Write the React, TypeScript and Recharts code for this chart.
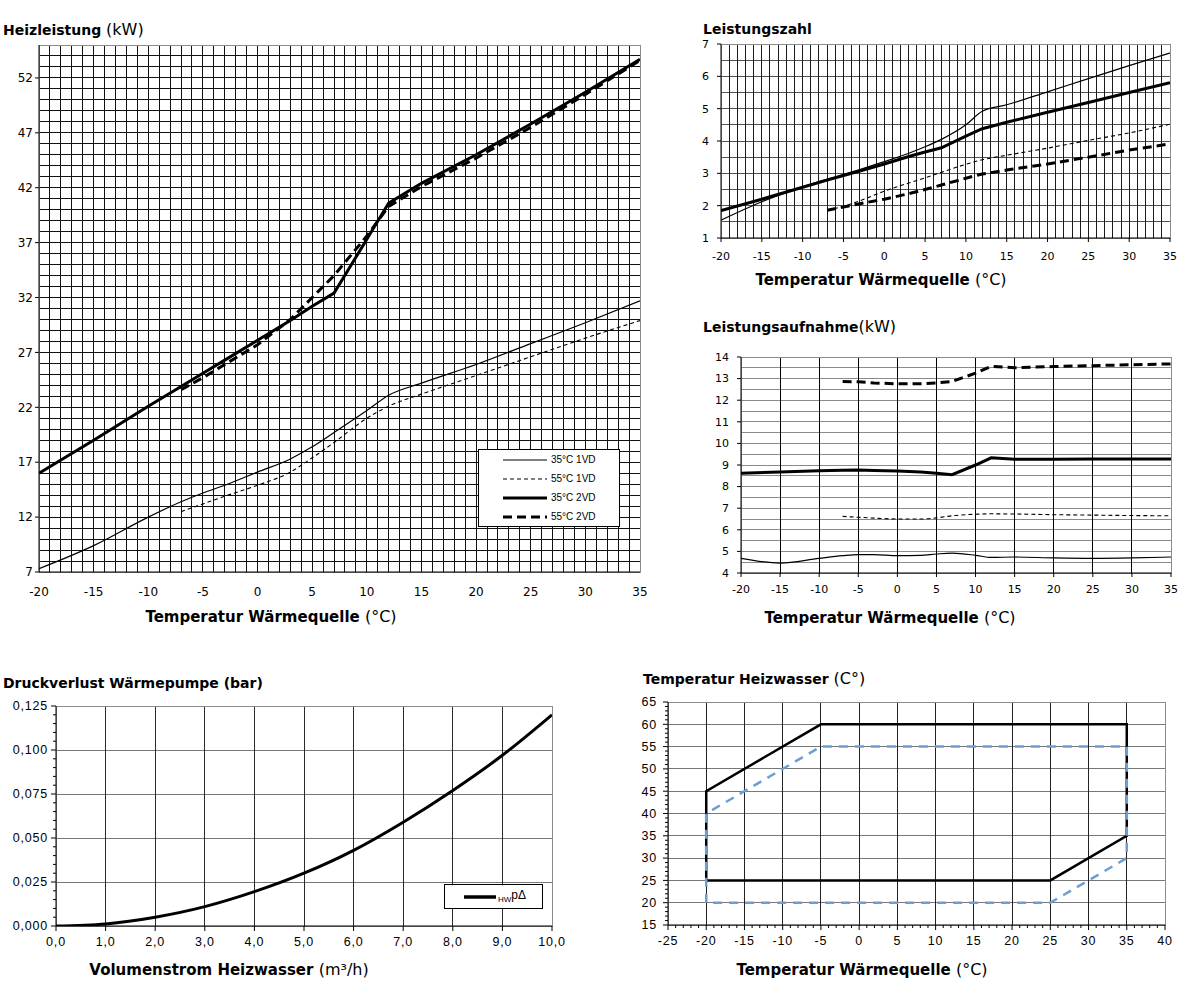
import React from 'react';
import { LineChart, Line, XAxis, YAxis, CartesianGrid, ReferenceArea, Legend } from 'recharts';

// ---------------- Data ----------------
const sourceTemps = [-20, -15, -10, -7, -5, -3, 0, 3, 5, 7, 10, 12, 15, 20, 25, 30, 35];
const seriesNames = ['35°C 1VD', '55°C 1VD', '35°C 2VD', '55°C 2VD'];

// Heizleistung (kW)
const heat35_1VD = [7.3, 9.4, 12.0, 13.4, 14.2, 14.9, 16.1, 17.3, 18.4, 19.7, 21.7, 23.1, 24.2, 25.9, 27.8, 29.7, 31.7];
const heat55_1VD = [null, null, null, 12.5, 13.2, 13.9, 14.9, 16.1, 17.4, 18.8, 21.0, 22.1, 23.2, 24.9, 26.6, 28.3, 29.9];
const heat35_2VD = [16.0, 19.0, 22.1, 23.9, 25.1, 26.3, 28.1, 29.9, 31.2, 32.4, 37.3, 40.6, 42.4, 45.0, 47.8, 50.7, 53.7];
const heat55_2VD = [null, null, null, 23.6, 24.7, 25.9, 27.7, 30.0, 32.0, 34.0, 37.6, 40.3, 42.1, 44.7, 47.5, 50.5, 53.6];

// Leistungszahl
const cop35_1VD = [1.55, 2.12, 2.58, 2.82, 2.97, 3.12, 3.36, 3.62, 3.82, 4.05, 4.5, 4.92, 5.12, 5.52, 5.93, 6.33, 6.72];
const cop55_1VD = [null, null, null, 1.87, 1.98, 2.15, 2.45, 2.7, 2.86, 3.03, 3.28, 3.42, 3.56, 3.78, 4.02, 4.25, 4.52];
const cop35_2VD = [1.85, 2.2, 2.57, 2.79, 2.93, 3.07, 3.29, 3.52, 3.66, 3.79, 4.15, 4.38, 4.58, 4.89, 5.19, 5.5, 5.8];
const cop55_2VD = [null, null, null, 1.86, 1.96, 2.06, 2.2, 2.37, 2.5, 2.64, 2.85, 2.98, 3.1, 3.29, 3.5, 3.72, 3.91];

// Leistungsaufnahme (kW)
const pow35_1VD = [4.68, 4.46, 4.68, 4.8, 4.85, 4.85, 4.8, 4.82, 4.88, 4.92, 4.82, 4.72, 4.74, 4.7, 4.68, 4.7, 4.74];
const pow55_1VD = [null, null, null, 6.62, 6.58, 6.54, 6.5, 6.5, 6.55, 6.65, 6.72, 6.74, 6.73, 6.7, 6.68, 6.66, 6.65];
const pow35_2VD = [8.62, 8.68, 8.73, 8.76, 8.77, 8.75, 8.72, 8.68, 8.62, 8.55, 9.0, 9.33, 9.27, 9.27, 9.28, 9.28, 9.28];
const pow55_2VD = [null, null, null, 12.87, 12.85, 12.8, 12.76, 12.76, 12.8, 12.87, 13.25, 13.57, 13.5, 13.56, 13.6, 13.64, 13.68];

// Druckverlust Wärmepumpe (bar)
const flowRates = [0, 1, 2, 3, 4, 5, 6, 7, 8, 9, 10];
const pressureDrop = [0, 0.0012, 0.005, 0.011, 0.0195, 0.03, 0.043, 0.059, 0.077, 0.097, 0.12];

// Einsatzgrenzen: Temperatur Heizwasser vs Temperatur Wärmequelle
const limitSolidX = [-20, -20, -5, 35, 35, 25, -20];
const limitSolidY = [25, 45, 60, 60, 35, 25, 25];
const limitDashedX = [-20, -20, -5, 35, 35, 25, -20];
const limitDashedY = [20, 40, 55, 55, 30, 20, 20];

// Tick labels
const heatXMajor = [-20, -15, -10, -5, 0, 5, 10, 15, 20, 25, 30, 35];
const heatYMajor = [7, 12, 17, 22, 27, 32, 37, 42, 47, 52];
const copYMajor = [1, 2, 3, 4, 5, 6, 7];
const powYMajor = [4, 5, 6, 7, 8, 9, 10, 11, 12, 13, 14];
const flowMajor = [0, 1, 2, 3, 4, 5, 6, 7, 8, 9, 10];
const dpMajor = [0, 0.025, 0.05, 0.075, 0.1, 0.125];
const limXMajor = [-25, -20, -15, -10, -5, 0, 5, 10, 15, 20, 25, 30, 35, 40];
const limYMajor = [15, 20, 25, 30, 35, 40, 45, 50, 55, 60, 65];

// ---------------- Helpers ----------------
const range = (start: number, end: number, step: number): number[] => {
  const out: number[] = [];
  const n = Math.round((end - start) / step);
  for (let i = 0; i <= n; i++) out.push(Number((start + i * step).toFixed(6)));
  return out;
};
const isIn = (list: number[], v: number) => list.some((m) => Math.abs(m - v) < 1e-9);

const DEJAVU = '"DejaVu Sans", Verdana, sans-serif';
const LIB = '"Liberation Sans", Arial, sans-serif';

type TickCfg = {
  side: 'left' | 'bottom';
  majors: number[];
  fmt: (v: number) => string;
  size: number;
  margin: number;
  majorLen: number;
  minorLen: number;
  font: string;
  fontSize: number;
  letterSpacing?: number;
};

const makeTick = (c: TickCfg) => (props: any) => {
  const { x, y, payload } = props;
  const v = Number(payload.value);
  const major = isIn(c.majors, v);
  const len = major ? c.majorLen : c.minorLen;
  const ts: React.CSSProperties = { fontFamily: c.font, fontSize: c.fontSize, letterSpacing: c.letterSpacing || 0 };
  if (c.side === 'left') {
    const ax = x + c.margin + c.size;
    return (
      <g>
        {len > 0 && <line x1={ax - len} x2={ax} y1={y} y2={y} stroke="#000" strokeWidth={1} />}
        {major && (
          <text x={x} y={y} dy="0.35em" textAnchor="end" fill="#000" style={ts}>
            {c.fmt(v)}
          </text>
        )}
      </g>
    );
  }
  const ay = y - c.margin - c.size;
  return (
    <g>
      {len > 0 && <line x1={x} x2={x} y1={ay} y2={ay + len} stroke="#000" strokeWidth={1} />}
      {major && (
        <text x={x} y={y} dy="0.71em" textAnchor="middle" fill="#000" style={ts}>
          {c.fmt(v)}
        </text>
      )}
    </g>
  );
};

const fmtInt = (v: number) => String(v);
const fmt3 = (v: number) => v.toFixed(3).replace('.', ',');
const fmt1 = (v: number) => v.toFixed(1).replace('.', ',');

// Rows for the temperature charts
const heatRows = sourceTemps.map((t, i) => ({ t, a: heat35_1VD[i], b: heat55_1VD[i], c: heat35_2VD[i], d: heat55_2VD[i] }));
const copRows = sourceTemps.map((t, i) => ({ t, a: cop35_1VD[i], b: cop55_1VD[i], c: cop35_2VD[i], d: cop55_2VD[i] }));
const powRows = sourceTemps.map((t, i) => ({ t, a: pow35_1VD[i], b: pow55_1VD[i], c: pow35_2VD[i], d: pow55_2VD[i] }));
const dpRows = flowRates.map((q, i) => ({ q, dp: pressureDrop[i] }));
const limSolidRows = limitSolidX.map((x, i) => ({ x, y: limitSolidY[i] }));
const limDashedRows = limitDashedX.map((x, i) => ({ x, y: limitDashedY[i] }));

const seriesStyle = [
  { key: 'a', width: 1.2, dash: undefined as string | undefined, type: 'monotone' as const },
  { key: 'b', width: 1.1, dash: '4 3', type: 'monotone' as const },
  { key: 'c', width: 3, dash: undefined as string | undefined, type: 'linear' as const },
  { key: 'd', width: 3, dash: '9 5', type: 'linear' as const },
];

const renderSeries = () =>
  seriesStyle.map((s, i) => (
    <Line
      key={s.key}
      dataKey={s.key}
      name={seriesNames[i]}
      type={s.type}
      stroke="#000"
      strokeWidth={s.width}
      strokeDasharray={s.dash}
      dot={false}
      activeDot={false}
      isAnimationActive={false}
    />
  ));

const heatLegend = () => (
  <div
    style={{
      width: 142,
      height: 78,
      border: '1.5px solid #000',
      background: '#fff',
      boxSizing: 'border-box',
      paddingTop: 0,
      paddingLeft: 24,
    }}
  >
    {seriesStyle.map((s, i) => (
      <div key={s.key} style={{ display: 'flex', alignItems: 'center', height: 19 }}>
        <svg width={46} height={8} style={{ display: 'block' }}>
          <line x1={0} y1={4} x2={44} y2={4} stroke="#000" strokeWidth={s.width} strokeDasharray={s.dash} />
        </svg>
        <span style={{ fontFamily: LIB, fontSize: 10, marginLeft: 2, color: '#000' }}>{seriesNames[i]}</span>
      </div>
    ))}
  </div>
);

const dpLegend = () => (
  <div
    style={{
      width: 99,
      height: 25,
      border: '1.5px solid #000',
      background: '#fff',
      boxSizing: 'border-box',
      display: 'flex',
      alignItems: 'center',
      paddingLeft: 18,
    }}
  >
    <svg width={34} height={8} style={{ display: 'block' }}>
      <line x1={1} y1={4} x2={33} y2={4} stroke="#000" strokeWidth={3.5} />
    </svg>
    <span style={{ fontFamily: LIB, fontSize: 12, color: '#000', marginLeft: 1 }}>
      <span style={{ fontSize: 8, verticalAlign: 'sub' }}>HW</span>pΔ
    </span>
  </div>
);

const titleStyle: React.CSSProperties = {
  position: 'absolute',
  fontFamily: DEJAVU,
  fontWeight: 'bold',
  fontSize: 14,
  lineHeight: '18px',
  whiteSpace: 'nowrap',
  color: '#000',
};
const xLabelStyle: React.CSSProperties = {
  position: 'absolute',
  fontFamily: DEJAVU,
  fontWeight: 'bold',
  fontSize: 15,
  lineHeight: '18px',
  whiteSpace: 'nowrap',
  color: '#000',
  transform: 'translateX(-50%)',
};
const normal: React.CSSProperties = { fontWeight: 'normal', fontSize: 16 };

const XLabel = ({ cx, top, text, unit }: { cx: number; top: number; text: string; unit: string }) => (
  <div style={{ ...xLabelStyle, left: cx, top }}>
    {text} <span style={normal}>{unit}</span>
  </div>
);

const BORDER = '#8c8c8c';

const grids = (vColor: string, hColor: string, vValues?: number[], hValues?: number[]) => [
  <CartesianGrid
    key="gh"
    vertical={false}
    stroke={hColor}
    strokeWidth={1}
    shapeRendering="crispEdges"
    horizontalValues={hValues}
  />,
  <CartesianGrid
    key="gv"
    horizontal={false}
    stroke={vColor}
    strokeWidth={1}
    shapeRendering="crispEdges"
    verticalValues={vValues}
  />,
];

export default function App() {
  return (
    <div style={{ position: 'absolute', left: 0, top: 0, width: 1186, height: 988, background: '#fff', overflow: 'hidden' }}>
      {/* Chart 1: Heizleistung */}
      <div style={{ position: 'absolute', left: 0, top: 0 }}>
        <LineChart width={660} height={600} data={heatRows} margin={{ top: 45, right: 20, bottom: 0, left: 0 }}>
          {grids('#111', '#111')}
          <ReferenceArea x1={-20} x2={35} y1={7} y2={55} fill="none" fillOpacity={0} stroke={BORDER} strokeWidth={1} shapeRendering="crispEdges" />
          <XAxis
            dataKey="t"
            type="number"
            domain={[-20, 35]}
            ticks={range(-20, 35, 1)}
            interval={0}
            allowDataOverflow
            height={28}
            tickSize={5}
            tickMargin={10}
            tickLine={false}
            axisLine={{ stroke: '#000' }}
            tick={makeTick({ side: 'bottom', majors: heatXMajor, fmt: fmtInt, size: 5, margin: 10, majorLen: 0, minorLen: 0, font: DEJAVU, fontSize: 12 })}
          />
          <YAxis
            type="number"
            domain={[7, 55]}
            ticks={range(7, 55, 1)}
            interval={0}
            allowDataOverflow
            width={39}
            tickSize={4}
            tickMargin={2}
            tickLine={false}
            axisLine={{ stroke: '#000' }}
            tick={makeTick({ side: 'left', majors: heatYMajor, fmt: fmtInt, size: 4, margin: 2, majorLen: 4, minorLen: 0, font: DEJAVU, fontSize: 12 })}
          />
          {renderSeries()}
          <Legend
            layout="vertical"
            align="center"
            verticalAlign="middle"
            content={heatLegend}
            wrapperStyle={{ position: 'absolute', left: 478, top: 449, width: 142, height: 78 }}
          />
        </LineChart>
      </div>
      <div style={{ ...titleStyle, left: 3, top: 21 }}>
        Heizleistung <span style={normal}>(kW)</span>
      </div>
      <XLabel cx={271} top={608} text="Temperatur Wärmequelle" unit="(°C)" />

      {/* Chart 2: Leistungszahl */}
      <div style={{ position: 'absolute', left: 690, top: 0 }}>
        <LineChart width={496} height={262} data={copRows} margin={{ top: 44, right: 16, bottom: 0, left: 0 }}>
          {grids('#1a1a1a', '#555')}
          <ReferenceArea x1={-20} x2={35} y1={1} y2={7} fill="none" fillOpacity={0} stroke={BORDER} strokeWidth={1} shapeRendering="crispEdges" />
          <XAxis
            dataKey="t"
            type="number"
            domain={[-20, 35]}
            ticks={range(-20, 35, 1)}
            interval={0}
            allowDataOverflow
            height={24}
            tickSize={4}
            tickMargin={10}
            tickLine={false}
            axisLine={{ stroke: '#000' }}
            tick={makeTick({ side: 'bottom', majors: heatXMajor, fmt: fmtInt, size: 4, margin: 10, majorLen: 4, minorLen: 0, font: DEJAVU, fontSize: 11 })}
          />
          <YAxis
            type="number"
            domain={[1, 7]}
            ticks={range(1, 7, 0.5)}
            interval={0}
            allowDataOverflow
            width={31}
            tickSize={4}
            tickMargin={8}
            tickLine={false}
            axisLine={{ stroke: '#000' }}
            tick={makeTick({ side: 'left', majors: copYMajor, fmt: fmtInt, size: 4, margin: 8, majorLen: 4, minorLen: 0, font: DEJAVU, fontSize: 11 })}
          />
          {renderSeries()}
        </LineChart>
      </div>
      <div style={{ ...titleStyle, left: 703, top: 20 }}>Leistungszahl</div>
      <XLabel cx={881} top={271} text="Temperatur Wärmequelle" unit="(°C)" />

      {/* Chart 3: Leistungsaufnahme */}
      <div style={{ position: 'absolute', left: 690, top: 300 }}>
        <LineChart width={496} height={300} data={powRows} margin={{ top: 57, right: 15, bottom: 0, left: 0 }}>
          {grids('#000', '#8a8a8a')}
          <ReferenceArea x1={-20} x2={35} y1={4} y2={14} fill="none" fillOpacity={0} stroke={BORDER} strokeWidth={1} shapeRendering="crispEdges" />
          <XAxis
            dataKey="t"
            type="number"
            domain={[-20, 35]}
            ticks={heatXMajor}
            interval={0}
            allowDataOverflow
            height={27}
            tickSize={4}
            tickMargin={8}
            tickLine={false}
            axisLine={{ stroke: '#000' }}
            tick={makeTick({ side: 'bottom', majors: heatXMajor, fmt: fmtInt, size: 4, margin: 8, majorLen: 4, minorLen: 0, font: DEJAVU, fontSize: 11 })}
          />
          <YAxis
            type="number"
            domain={[4, 14]}
            ticks={range(4, 14, 0.5)}
            interval={0}
            allowDataOverflow
            width={51}
            tickSize={4}
            tickMargin={8}
            tickLine={false}
            axisLine={{ stroke: '#000' }}
            tick={makeTick({ side: 'left', majors: powYMajor, fmt: fmtInt, size: 4, margin: 8, majorLen: 4, minorLen: 0, font: DEJAVU, fontSize: 11 })}
          />
          {renderSeries()}
        </LineChart>
      </div>
      <div style={{ ...titleStyle, left: 703, top: 318 }}>Leistungsaufnahme<span style={normal}>(kW)</span></div>
      <XLabel cx={890} top={609} text="Temperatur Wärmequelle" unit="(°C)" />

      {/* Chart 4: Druckverlust */}
      <div style={{ position: 'absolute', left: 0, top: 690 }}>
        <LineChart width={580} height={260} data={dpRows} margin={{ top: 16, right: 28, bottom: 0, left: 0 }}>
          {grids('#2a2a2a', '#777', flowMajor, dpMajor)}
          <ReferenceArea x1={0} x2={10} y1={0} y2={0.125} fill="none" fillOpacity={0} stroke={BORDER} strokeWidth={1} shapeRendering="crispEdges" />
          <XAxis
            dataKey="q"
            type="number"
            domain={[0, 10]}
            ticks={flowMajor}
            interval={0}
            allowDataOverflow
            height={24}
            tickSize={5}
            tickMargin={6}
            tickLine={false}
            axisLine={{ stroke: '#000' }}
            tick={makeTick({ side: 'bottom', majors: flowMajor, fmt: fmt1, size: 5, margin: 6, majorLen: 5, minorLen: 0, font: LIB, fontSize: 12.5, letterSpacing: 0.8 })}
          />
          <YAxis
            type="number"
            domain={[0, 0.125]}
            ticks={range(0, 0.125, 0.005)}
            interval={0}
            allowDataOverflow
            width={56}
            tickSize={5}
            tickMargin={3}
            tickLine={false}
            axisLine={{ stroke: '#000' }}
            tick={makeTick({ side: 'left', majors: dpMajor, fmt: fmt3, size: 5, margin: 3, majorLen: 5, minorLen: 3, font: LIB, fontSize: 12.5, letterSpacing: 0.8 })}
          />
          <Line dataKey="dp" name="HWpΔ" type="monotone" stroke="#000" strokeWidth={3} dot={false} activeDot={false} isAnimationActive={false} />
          <Legend
            layout="vertical"
            align="center"
            verticalAlign="middle"
            content={dpLegend}
            wrapperStyle={{ position: 'absolute', left: 444, top: 194, width: 99, height: 25 }}
          />
        </LineChart>
      </div>
      <div style={{ ...titleStyle, left: 3, top: 674 }}>Druckverlust Wärmepumpe (bar)</div>
      <XLabel cx={229} top={961} text="Volumenstrom Heizwasser" unit="(m³/h)" />

      {/* Chart 5: Einsatzgrenzen */}
      <div style={{ position: 'absolute', left: 620, top: 690 }}>
        <LineChart width={566} height={260} margin={{ top: 12, right: 21, bottom: 0, left: 0 }}>
          {grids('#222', '#777', limXMajor, limYMajor)}
          <ReferenceArea x1={-25} x2={40} y1={15} y2={65} fill="none" fillOpacity={0} stroke={BORDER} strokeWidth={1} shapeRendering="crispEdges" />
          <XAxis
            dataKey="x"
            type="number"
            domain={[-25, 40]}
            ticks={range(-25, 40, 1)}
            interval={0}
            allowDataOverflow
            height={25}
            tickSize={5}
            tickMargin={6}
            tickLine={false}
            axisLine={{ stroke: '#000' }}
            tick={makeTick({ side: 'bottom', majors: limXMajor, fmt: fmtInt, size: 5, margin: 6, majorLen: 5, minorLen: 3, font: LIB, fontSize: 12.5, letterSpacing: 0.8 })}
          />
          <YAxis
            type="number"
            domain={[15, 65]}
            ticks={range(15, 65, 1)}
            interval={0}
            allowDataOverflow
            width={48}
            tickSize={5}
            tickMargin={6}
            tickLine={false}
            axisLine={{ stroke: '#000' }}
            tick={makeTick({ side: 'left', majors: limYMajor, fmt: fmtInt, size: 5, margin: 6, majorLen: 5, minorLen: 3, font: LIB, fontSize: 12.5, letterSpacing: 0.8 })}
          />
          <Line data={limSolidRows} dataKey="y" type="linear" stroke="#000" strokeWidth={2.5} dot={false} activeDot={false} isAnimationActive={false} />
          <Line data={limDashedRows} dataKey="y" type="linear" stroke="#6b9fd4" strokeWidth={2.5} strokeDasharray="9 7" dot={false} activeDot={false} isAnimationActive={false} />
        </LineChart>
      </div>
      <div style={{ ...titleStyle, left: 643, top: 670 }}>
        Temperatur Heizwasser <span style={normal}>(C°)</span>
      </div>
      <XLabel cx={862} top={961} text="Temperatur Wärmequelle" unit="(°C)" />
    </div>
  );
}
